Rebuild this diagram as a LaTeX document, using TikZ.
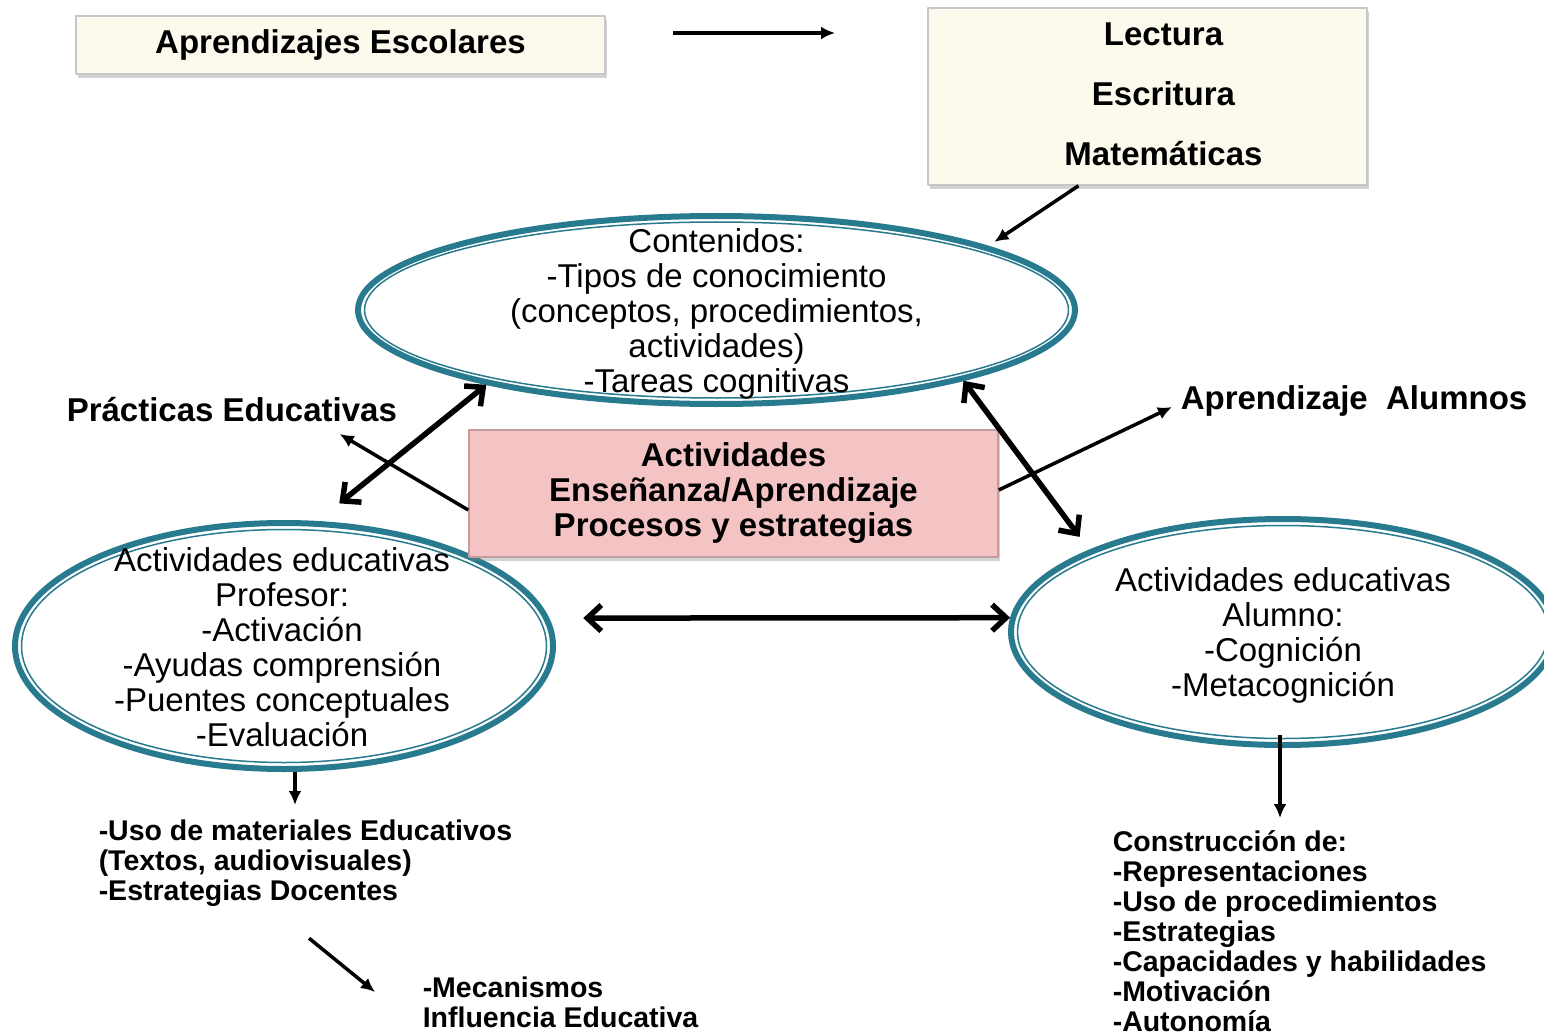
\documentclass[tikz,border=0pt]{standalone}
\usepackage{fontspec}
\setmainfont{Liberation Sans}
\usetikzlibrary{shapes.geometric,arrows.meta,shadows}
\definecolor{ovalcol}{RGB}{40,122,142}
\definecolor{creamfill}{RGB}{252,250,237}
\definecolor{pinkfill}{RGB}{244,196,196}
\tikzset{
  oval/.style={ellipse,draw=ovalcol,line width=6pt,inner sep=0pt},
  ovalinner/.style={draw=ovalcol,line width=1.5pt},
  ovaltext/.style={align=center,inner sep=0pt,font=\fontsize{33}{35}\selectfont},
  boxshadow/.style={drop shadow={shadow xshift=2pt,shadow yshift=-4pt,opacity=0.35}},
  creambox/.style={rectangle,fill=creamfill,draw=black!22,line width=1.5pt,boxshadow,inner sep=0pt},
  pinkbox/.style={rectangle,fill=pinkfill,draw=pinkfill!80!black,line width=1.5pt,boxshadow,inner sep=0pt,
    align=center,font=\bfseries\fontsize{33}{35}\selectfont},
  boldlabel/.style={inner sep=0pt,font=\bfseries\fontsize{33}{35}\selectfont},
  boldlist/.style={align=left,inner sep=0pt,font=\bfseries\fontsize{28.5}{30}\selectfont},
  bigarrow/.style={{Straight Barb[length=14pt,width=26pt]}-{Straight Barb[length=14pt,width=26pt]},line width=5.5pt},
}
\begin{document}
\begin{tikzpicture}[>={Latex[length=14pt,width=13pt]},line join=bevel,line width=3.5pt,x=1pt,y=-1pt]
  \useasboundingbox (0,0) rectangle (1544,1032);
%%
  % Node: contenidos
  \node[oval,minimum width=717pt,minimum height=188pt] (contenidos) at (716.5,310) {};
  \draw[ovalinner] (contenidos.center) ellipse [x radius=352, y radius=88];
  \node[ovaltext] (contenidostxt) at ([yshift=-4pt]contenidos.center)
    {Contenidos:\\-Tipos de conocimiento\\(conceptos, procedimientos,\\actividades)\\-Tareas cognitivas};
  % Node: profesor
  \node[oval,minimum width=538pt,minimum height=246pt] (profesor) at (284,646) {};
  \draw[ovalinner] (profesor.center) ellipse [x radius=262.5, y radius=116.5];
  \node[ovaltext] (profesortxt) at ([xshift=-2pt,yshift=-1.5pt]profesor.center)
    {Actividades educativas\\Profesor:\\-Activación\\-Ayudas comprensión\\-Puentes conceptuales\\-Evaluación};
  % Node: alumno
  \node[oval,minimum width=544pt,minimum height=226pt] (alumno) at (1283,632) {};
  \draw[ovalinner] (alumno.center) ellipse [x radius=265.5, y radius=106.5];
  \node[ovaltext] (alumnotxt) at ([yshift=-3.5pt]alumno.center)
    {Actividades educativas\\Alumno:\\-Cognición\\-Metacognición};
  % Node: escolares
  \node[creambox,boldlabel,minimum width=529pt,minimum height=58pt] (escolares) at (340.5,45) {Aprendizajes Escolares};
  % Node: basicas
  \node[creambox,minimum width=439pt,minimum height=177pt] (basicas) at (1147.5,96.5) {};
  \node[boldlabel,align=center,font=\bfseries\fontsize{33}{60}\selectfont] (basicastxt)
    at ([xshift=16pt,yshift=2.5pt]basicas.center) {Lectura\\Escritura\\Matemáticas};
  % Node: actividades
  \node[pinkbox,minimum width=529pt,minimum height=127pt] (actividades) at (733.5,493.5)
    {Actividades\\Enseñanza/Aprendizaje\\Procesos y estrategias};
  % Node: practicas
  \node[boldlabel,anchor=base west] (practicas) at (65,421) {Prácticas Educativas};
  % Node: aprendizaje
  \node[boldlabel,anchor=base west] (aprendizaje) at (1179,409) {Aprendizaje\ \ Alumnos};
  % Node: uso
  \node[boldlist,anchor=north west] (uso) at (97,818)
    {-Uso de materiales Educativos\\(Textos, audiovisuales)\\-Estrategias Docentes};
  % Node: mecanismos
  \node[boldlist,anchor=north west] (mecanismos) at (421,975)
    {-Mecanismos\\Influencia Educativa};
  % Node: construccion
  \node[boldlist,anchor=north west] (construccion) at (1111,829)
    {Construcción de:\\-Representaciones\\-Uso de procedimientos\\-Estrategias\\-Capacidades y habilidades\\-Motivación\\-Autonomía};
%%
  % Edge: escolares -> basicas
  \coordinate (flechaini) at (673,33);
  \coordinate (flechafin) at (835,33);
  \draw[->] (flechaini) -- (flechafin);
  % Edge: basicas -> contenidos
  \draw[->] ([xshift=-69pt]basicas.south) -- ([xshift=13pt,yshift=2pt]contenidos.14);
  % Edge: actividades -> practicas
  \draw[->] ([yshift=-16.5pt]actividades.west) -- ([xshift=-59pt,yshift=-11pt]practicas.south east);
  % Edge: actividades -> aprendizaje
  \draw[->] ([yshift=3.5pt]actividades.east) -- ([xshift=-7pt,yshift=2pt]aprendizaje.base west);
  % Edge: profesor -> uso
  \draw[->] ([xshift=11pt]profesor.south) -- ([xshift=198pt,yshift=13pt]uso.north west);
  % Edge: uso -> mecanismos
  \draw[->] ([xshift=212pt,yshift=-30pt]uso.south west) -- ([xshift=-46pt,yshift=-17pt]mecanismos.north west);
  % Edge: alumno -> construccion
  \draw[->] ([xshift=-3pt,yshift=13pt]alumno.south) -- ([xshift=169pt,yshift=11pt]construccion.north west);
  % Edge: contenidos <-> profesor
  \draw[bigarrow,shorten >=28pt] (contenidos.198) -- (profesor.75);
  % Edge: contenidos <-> alumno
  \draw[bigarrow,shorten >=16pt] (contenidos.344) -- (alumno.157);
  % Edge: profesor <-> alumno
  \draw[bigarrow,shorten <=34pt] (profesor.6) -- (alumno.177);
%
\end{tikzpicture}
\end{document}
